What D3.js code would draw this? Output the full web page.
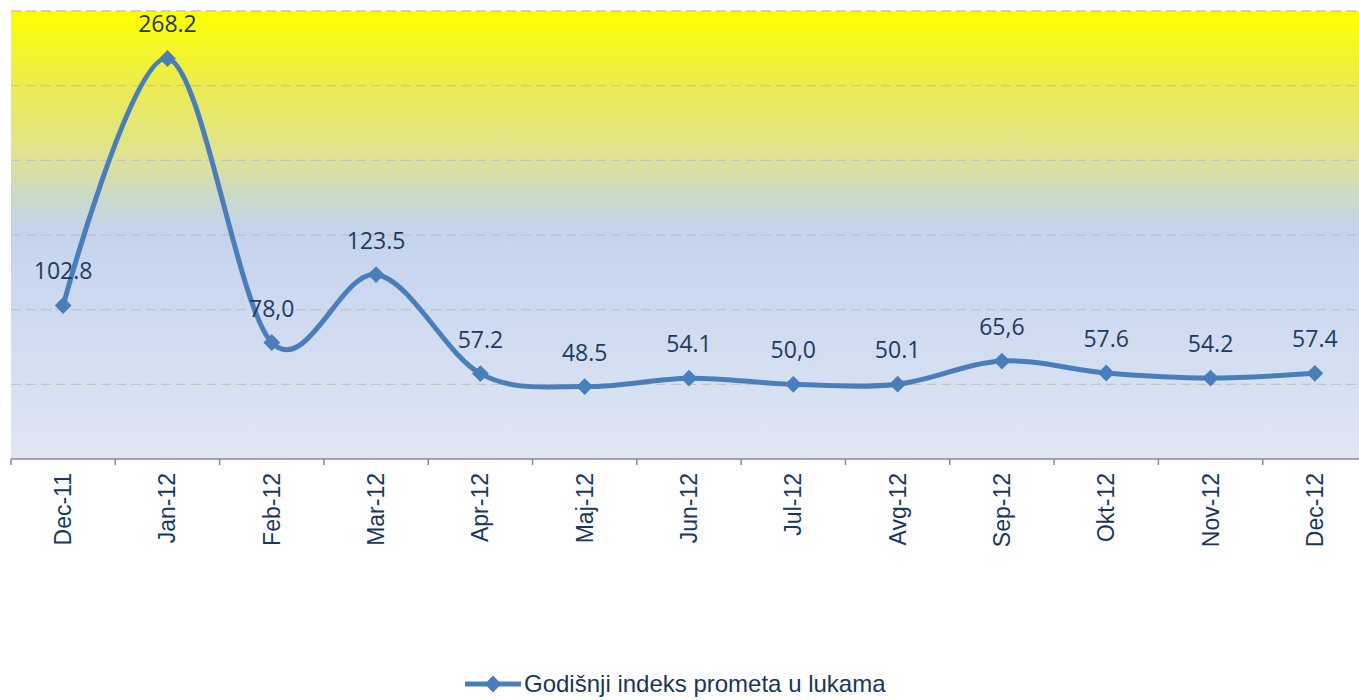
<!DOCTYPE html>
<html>
<head>
<meta charset="utf-8">
<script src="https://cdn.jsdelivr.net/npm/d3@7"></script>
<style>
  body { margin: 0; background: #fff; overflow: hidden; }
  svg { display: block; }
</style>
</head>
<body>
<div id="content"></div>
<script>
// chart data
const months = ["Dec-11", "Jan-12", "Feb-12", "Mar-12", "Apr-12", "Maj-12", "Jun-12",
                "Jul-12", "Avg-12", "Sep-12", "Okt-12", "Nov-12", "Dec-12"];
const values = [102.8, 268.2, 78.0, 123.5, 57.2, 48.5, 54.1, 50.0, 50.1, 65.6, 57.6, 54.2, 57.4];
const valueLabels = ["102.8", "268.2", "78,0", "123.5", "57.2", "48.5", "54.1",
                     "50,0", "50.1", "65,6", "57.6", "54.2", "57.4"];
const gridValues = [50, 100, 150, 200, 250, 300];
const seriesName = "Godišnji indeks prometa u lukama";

const width = 1359, height = 700;
const plotLeft = 11, plotRight = 1367, plotTop = 11, plotBottom = 459;

const svg = d3.select('#content').append('svg')
  .attr('width', width)
  .attr('height', height);

const x = d3.scaleBand().domain(months).range([plotLeft, plotRight]);
const y = d3.scaleLinear().domain([0, 300]).range([plotBottom, plotTop]);

// background gradient
const defs = svg.append('defs');
const grad = defs.append('linearGradient')
  .attr('id', 'bg')
  .attr('x1', 0).attr('y1', 0).attr('x2', 0).attr('y2', 1);
[[0, '#ffff00'], [0.17, '#ebeb52'], [0.33, '#dfe296'], [0.42, '#cad8cc'],
 [0.49, '#c4d3ee'], [1, '#dfe6f3']].forEach(function(s) {
  grad.append('stop').attr('offset', s[0]).attr('stop-color', s[1]);
});

svg.append('rect')
  .attr('x', plotLeft).attr('y', plotTop)
  .attr('width', plotRight - plotLeft).attr('height', plotBottom - plotTop)
  .attr('fill', 'url(#bg)');

// gridlines
svg.append('g')
  .selectAll('line')
  .data(gridValues)
  .join('line')
  .attr('x1', plotLeft).attr('x2', plotRight)
  .attr('y1', d => y(d)).attr('y2', d => y(d))
  .attr('stroke', '#c3c3c3')
  .attr('stroke-width', 1.3)
  .attr('stroke-dasharray', '10,5');

// x axis
const xAxis = svg.append('g')
  .attr('transform', `translate(0,${plotBottom})`);
xAxis.append('line')
  .attr('x1', plotLeft).attr('x2', plotRight)
  .attr('stroke', '#8a8a8a').attr('stroke-width', 1.5);
xAxis.selectAll('.tick')
  .data(months)
  .join('line')
  .attr('class', 'tick')
  .attr('x1', d => x(d)).attr('x2', d => x(d))
  .attr('y1', 0).attr('y2', 6)
  .attr('stroke', '#8a8a8a').attr('stroke-width', 1.5);
xAxis.selectAll('text')
  .data(months)
  .join('text')
  .attr('transform', d => `translate(${x(d) + x.bandwidth() / 2 + 8},14) rotate(-90)`)
  .attr('text-anchor', 'end')
  .attr('font-family', 'Liberation Sans, Arial, sans-serif')
  .attr('font-size', 23)
  .attr('fill', '#17375e')
  .text(d => d);

// line
const cx = d => x(d) + x.bandwidth() / 2;
const line = d3.line()
  .x((d, i) => cx(months[i]))
  .y(d => y(d))
  .curve(d3.curveCardinal.tension(0));

svg.append('path')
  .datum(values)
  .attr('d', line)
  .attr('fill', 'none')
  .attr('stroke', '#4a7ebb')
  .attr('stroke-width', 5)
  .attr('stroke-linejoin', 'round');

const diamond = d3.symbol().type(d3.symbolDiamond2).size(180);

svg.append('g')
  .selectAll('path')
  .data(values)
  .join('path')
  .attr('transform', (d, i) => `translate(${cx(months[i])},${y(d)})`)
  .attr('d', diamond)
  .attr('fill', '#4a7ebb');

// value labels
svg.append('g')
  .selectAll('text')
  .data(values)
  .join('text')
  .attr('x', (d, i) => cx(months[i]))
  .attr('y', d => y(d) - 26)
  .attr('text-anchor', 'middle')
  .attr('font-family', 'Open Sans, sans-serif')
  .attr('font-size', 23)
  .attr('fill', '#1f3a5f')
  .text((d, i) => valueLabels[i]);

// legend
const legend = svg.append('g').attr('transform', 'translate(465,684)');
legend.append('line')
  .attr('x1', 0).attr('x2', 56)
  .attr('stroke', '#4a7ebb').attr('stroke-width', 5);
legend.append('path')
  .attr('transform', 'translate(28,0)')
  .attr('d', diamond)
  .attr('fill', '#4a7ebb');
legend.append('text')
  .attr('x', 59).attr('y', 8)
  .attr('font-family', 'Liberation Sans, Arial, sans-serif')
  .attr('font-size', 24)
  .attr('fill', '#17375e')
  .text(seriesName);
</script>
</body>
</html>
